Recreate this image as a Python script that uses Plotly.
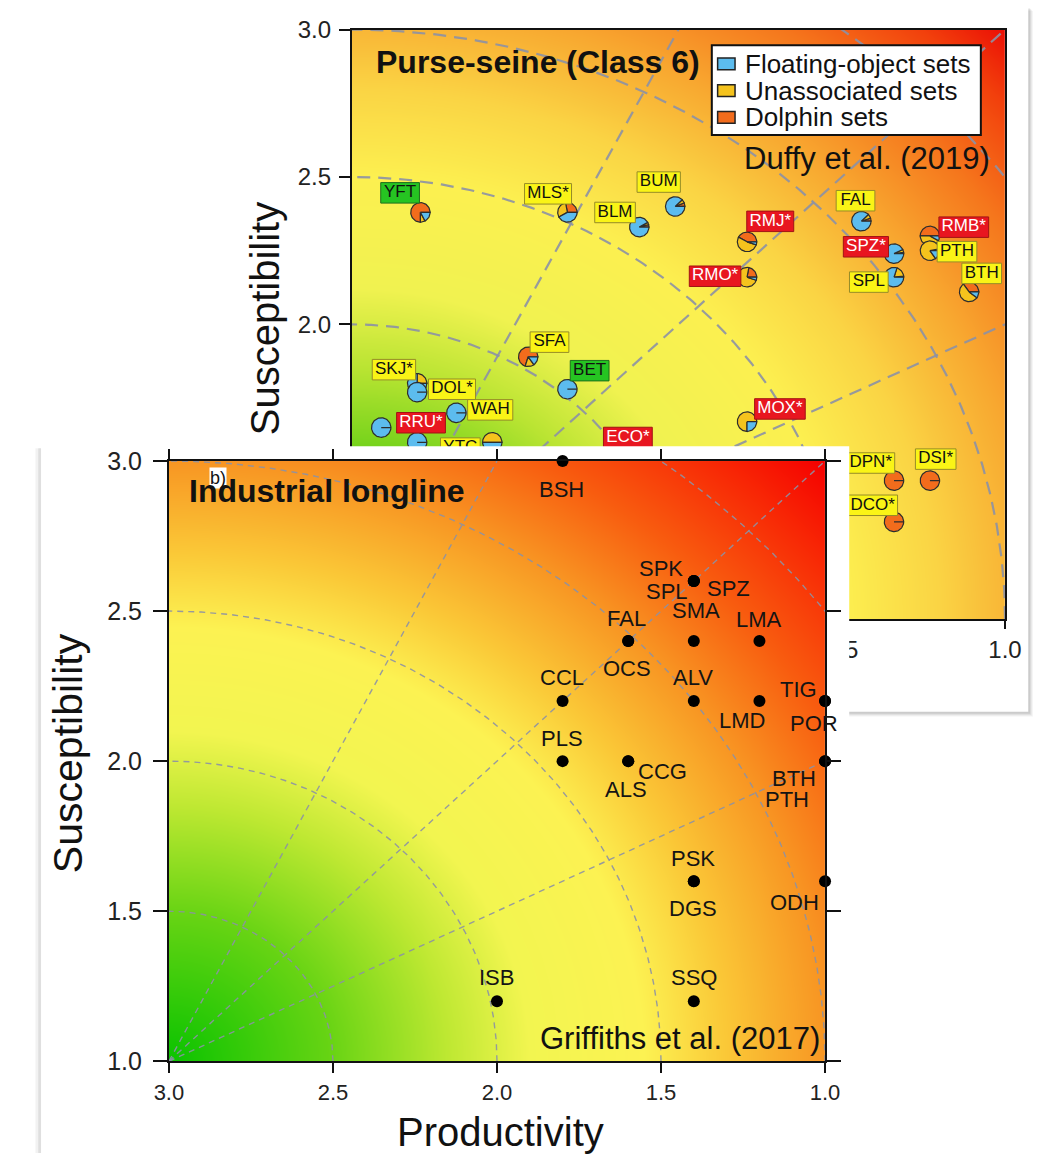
import numpy as np
import plotly.graph_objects as go

W, H = 1053, 1167
OFF = 0  # body margin is removed below, so figure pixels == page pixels

# ---------------- Purse-seine (Class 6) -- Duffy et al. (2019) ----------------
ps_species = ["YFT", "MLS*", "BLM", "BUM", "FAL", "RMJ*", "RMB*", "PTH", "SPZ*",
              "SPL", "BTH", "RMO*", "SFA", "BET", "SKJ*", "DOL*", "WAH", "",
              "RRU*", "YTC", "ECO*", "MOX*", "DPN*", "DSI*", "DCO*"]
ps_productivity = [2.79, 2.34, 2.12, 2.01, 1.44, 1.79, 1.23, 1.23, 1.34,
                   1.34, 1.11, 1.79, 2.46, 2.34, 2.80, 2.80, 2.68, 2.91,
                   2.80, 2.57, 2.22, 1.79, 1.34, 1.23, 1.34]
ps_susceptibility = [2.38, 2.38, 2.33, 2.40, 2.35, 2.28, 2.30, 2.25, 2.24,
                     2.16, 2.11, 2.16, 1.89, 1.78, 1.80, 1.77, 1.70, 1.65,
                     1.60, 1.60, 1.55, 1.67, 1.47, 1.47, 1.33]
ps_floating = [0.17, 0.42, 0.92, 0.88, 0.88, 0.05, 0.08, 0.15, 0.93,
               0.80, 0.10, 0.05, 0.15, 1.00, 0.75, 1.00, 1.00, 1.00,
               1.00, 0.50, 1.00, 0.25, 0.00, 0.00, 0.00]
ps_unassociated = [0.08, 0.30, 0.04, 0.06, 0.07, 0.53, 0.42, 0.82, 0.05,
                   0.18, 0.55, 0.73, 0.15, 0.00, 0.25, 0.00, 0.00, 0.00,
                   0.00, 0.50, 0.00, 0.75, 0.00, 0.00, 0.00]
ps_dolphin = [0.75, 0.28, 0.04, 0.06, 0.05, 0.42, 0.50, 0.03, 0.02,
              0.02, 0.35, 0.22, 0.70, 0.00, 0.00, 0.00, 0.00, 0.00,
              0.00, 0.00, 0.00, 0.00, 1.00, 1.00, 1.00]
ps_risk = ["low", "medium", "medium", "medium", "medium", "high", "high", "medium", "high",
           "medium", "medium", "high", "medium", "low", "medium", "medium", "medium", "",
           "high", "medium", "high", "high", "medium", "medium", "medium"]
set_types = ["Floating-object sets", "Unassociated sets", "Dolphin sets"]

# ---------------- Industrial longline -- Griffiths et al. (2017) ----------------
ll_species = ["BSH", "SPK", "SPL", "SPZ", "FAL", "OCS", "SMA", "LMA", "CCL", "ALV",
              "LMD", "TIG", "POR", "PLS", "CCG", "ALS", "BTH", "PTH", "PSK", "DGS",
              "ODH", "ISB", "SSQ"]
ll_productivity = [1.8, 1.4, 1.4, 1.4, 1.6, 1.6, 1.4, 1.2, 1.8, 1.4,
                   1.2, 1.0, 1.0, 1.8, 1.6, 1.6, 1.0, 1.0, 1.4, 1.4,
                   1.0, 2.0, 1.4]
ll_susceptibility = [3.0, 2.6, 2.6, 2.6, 2.4, 2.4, 2.4, 2.4, 2.2, 2.2,
                     2.2, 2.2, 2.2, 2.0, 2.0, 2.0, 2.0, 2.0, 1.6, 1.6,
                     1.6, 1.2, 1.2]

# reference arcs (radius from origin P=3,S=1) and rays (slope dS/dP)
ref_radii = [0.5, 1.0, 1.5, 2.0, 2.5]
ref_slopes = [0.5, 1.0, 2.0]
axis_ticks = [1.0, 1.5, 2.0, 2.5, 3.0]

# ---------------- layout / style (target pixels) ----------------
TOP = dict(x0=346, x1=1021, y0=16, y1=620)
BOT = dict(x0=157, x1=835, y0=458, y1=1073)
FONT = "Liberation Sans, Arial, Helvetica, sans-serif"
COL_SET = ["#5cbcee", "#f5c31d", "#f26c1c"]          # floating, unassociated, dolphin
RISK_FILL = {"high": "rgb(232,22,32)", "medium": "rgb(250,244,22)", "low": "rgb(38,196,34)"}
RISK_LINE = {"high": "rgb(160,20,20)", "medium": "rgb(150,140,40)", "low": "rgb(30,110,30)"}
RISK_TEXT = {"high": "white", "medium": "#111111", "low": "#111111"}
ps_label_offset = {"YFT": (-21, -20), "MLS*": (-20, -19), "BLM": (-25, -15), "BUM": (-17, -25),
                   "FAL": (-6, -21), "RMJ*": (24, -21), "RMB*": (35, -9), "PTH": (28, 1),
                   "SPZ*": (-29, -7), "SPL": (-26, 5), "BTH": (13, -19), "RMO*": (-33, -1),
                   "SFA": (22, -15), "BET": (23, -19), "SKJ*": (-24, -14), "DOL*": (36, -3),
                   "WAH": (35, -3), "RRU*": (4, -20), "YTC": (-33, 6), "ECO*": (22, -20),
                   "MOX*": (34, -13), "DPN*": (-24, -18), "DSI*": (6, -22), "DCO*": (-22, -17)}
ll_label_offset = {"BSH": (-1, 28), "SPK": (-33, -13), "SPL": (-27, 10), "SPZ": (35, 7),
                   "FAL": (-2, -23), "OCS": (-1, 27), "SMA": (2, -31), "LMA": (0, -22),
                   "CCL": (-1, -24), "ALV": (-1, -24), "LMD": (-17, 19), "TIG": (-27, -12),
                   "POR": (-11, 22), "PLS": (-1, -23), "CCG": (34, 10), "ALS": (-2, 28),
                   "BTH": (-31, 17), "PTH": (-38, 38), "PSK": (-1, -23), "DGS": (-1, 27),
                   "ODH": (-31, 21), "ISB": (0, -24), "SSQ": (0, -24)}
ARIAL_W = dict(A=.667, B=.667, C=.722, D=.722, E=.667, F=.611, G=.778, H=.722, I=.278, J=.5,
               K=.667, L=.556, M=.833, N=.722, O=.778, P=.667, Q=.778, R=.722, S=.667, T=.611,
               U=.722, V=.667, W=.944, X=.667, Y=.667, Z=.611)
ARIAL_W["*"] = .389

ZMAX = 2 * np.sqrt(2)
top_stops = [(0, (25, 190, 0)), (0.5, (95, 205, 20)), (0.85, (185, 228, 50)), (1.12, (240, 242, 80)),
             (1.5, (252, 240, 80)), (1.8, (250, 212, 68)), (2.1, (248, 168, 48)), (2.4, (245, 118, 28)),
             (2.65, (242, 65, 12)), (ZMAX, (235, 15, 5))]
bot_stops = [(0, (10, 195, 0)), (0.5, (105, 212, 20)), (0.85, (190, 232, 50)), (1.1, (242, 245, 80)),
             (1.45, (252, 242, 82)), (1.7, (250, 200, 55)), (2.0, (248, 150, 35)), (2.3, (248, 92, 15)),
             (2.6, (248, 40, 5)), (ZMAX, (245, 0, 0))]


def cscale(stops):
    return [[r / ZMAX, "rgb(%d,%d,%d)" % c] for r, c in stops]


def pxx(v):
    return (v - OFF) / W


def pxy(v):
    return 1 - (v - OFF) / H


kx_top = (TOP["x1"] - TOP["x0"]) / 2.0
ky_top = (TOP["y1"] - TOP["y0"]) / 2.0

fig = go.Figure()


def add_background(xa, ya, stops, dash, width):
    g = np.linspace(1, 3, 121)
    PP, SS = np.meshgrid(g, g)
    Z = np.hypot(3 - PP, SS - 1)
    fig.add_trace(go.Heatmap(x=g, y=g, z=Z, zmin=0, zmax=ZMAX, colorscale=cscale(stops),
                             zsmooth="best", showscale=False, hoverinfo="skip",
                             xaxis=xa, yaxis=ya))
    th = np.linspace(0, np.pi / 2, 240)
    lx, ly = [], []
    for r in ref_radii:
        lx += list(3 - r * np.cos(th)) + [None]
        ly += list(1 + r * np.sin(th)) + [None]
    for m in ref_slopes:
        t = min(2.0, 2.0 / m)
        lx += [3, 3 - t, None]
        ly += [1, 1 + m * t, None]
    fig.add_trace(go.Scatter(x=lx, y=ly, mode="lines", hoverinfo="skip", showlegend=False,
                             line=dict(color="rgba(140,145,165,0.9)", width=width, dash=dash),
                             xaxis=xa, yaxis=ya))


# ---------------- top panel ----------------
add_background("x", "y", top_stops, "13px,8px", 2.2)

R_PIE = 10.0
for i, sp in enumerate(ps_species):
    p0, s0 = ps_productivity[i], ps_susceptibility[i]
    fr = [ps_dolphin[i], ps_unassociated[i], ps_floating[i]]
    cols = [COL_SET[2], COL_SET[1], COL_SET[0]]
    tot = sum(fr)
    a0 = 0.0
    for f, c in zip(fr, cols):
        if f <= 0:
            continue
        a1 = a0 + 2 * np.pi * f / tot
        th = np.linspace(a0, a1, max(3, int(80 * f) + 2))
        xs = [p0] + list(p0 - R_PIE * np.cos(th) / kx_top) + [p0]
        ys = [s0] + list(s0 + R_PIE * np.sin(th) / ky_top) + [s0]
        fig.add_trace(go.Scatter(x=xs, y=ys, mode="lines", fill="toself", fillcolor=c,
                                 line=dict(color="rgb(45,45,45)", width=1.2),
                                 hoverinfo="skip", showlegend=False, xaxis="x", yaxis="y"))
        a0 = a1

# label boxes + texts
for risk in ["high", "medium", "low"]:
    bx, by, tx, ty, tt = [], [], [], [], []
    for i, sp in enumerate(ps_species):
        if ps_risk[i] != risk or sp == "":
            continue
        dx, dy = ps_label_offset[sp]
        cx = ps_productivity[i] - dx / kx_top
        cy = ps_susceptibility[i] - dy / ky_top
        wpx = max(40.0, sum(ARIAL_W.get(ch, .6) for ch in sp) * 17 + 7)
        hw, hh = wpx / 2 / kx_top, 10.5 / ky_top
        bx += [cx - hw, cx + hw, cx + hw, cx - hw, cx - hw, None]
        by += [cy - hh, cy - hh, cy + hh, cy + hh, cy - hh, None]
        tx.append(cx)
        ty.append(cy)
        tt.append(sp)
    fig.add_trace(go.Scatter(x=bx, y=by, mode="lines", fill="toself", fillcolor=RISK_FILL[risk],
                             line=dict(color=RISK_LINE[risk], width=1), hoverinfo="skip",
                             showlegend=False, xaxis="x", yaxis="y"))
    fig.add_trace(go.Scatter(x=tx, y=ty, mode="text", text=tt, textposition="middle center",
                             textfont=dict(family=FONT, size=17, color=RISK_TEXT[risk]),
                             hoverinfo="skip", showlegend=False, xaxis="x", yaxis="y"))

# ---------------- card covering the top panel (pixel coordinates) ----------------
CARD = dict(x0=25, x1=860, y0=443, y1=1180)
fig.add_trace(go.Scatter(x=[19, 25, 25, 19, 19], y=[445, 445, 1180, 1180, 445], mode="lines",
                         fill="toself", fillcolor="rgba(0,0,0,0.05)", line=dict(width=0),
                         hoverinfo="skip", showlegend=False, xaxis="x2", yaxis="y2"))
fig.add_trace(go.Scatter(x=[22, 25, 25, 22, 22], y=[445, 445, 1180, 1180, 445], mode="lines",
                         fill="toself", fillcolor="rgba(0,0,0,0.08)", line=dict(width=0),
                         hoverinfo="skip", showlegend=False, xaxis="x2", yaxis="y2"))
fig.add_trace(go.Scatter(x=[CARD["x0"], CARD["x1"], CARD["x1"], CARD["x0"], CARD["x0"]],
                         y=[CARD["y0"], CARD["y0"], CARD["y1"], CARD["y1"], CARD["y0"]], mode="lines",
                         fill="toself", fillcolor="white", line=dict(width=0),
                         hoverinfo="skip", showlegend=False, xaxis="x2", yaxis="y2"))

# ---------------- bottom panel ----------------
add_background("x3", "y3", bot_stops, "6px,5px", 1.4)
fig.add_trace(go.Scatter(x=ll_productivity, y=ll_susceptibility, mode="markers",
                         marker=dict(color="black", size=12), cliponaxis=False,
                         hoverinfo="skip", showlegend=False, xaxis="x3", yaxis="y3"))

annotations = []
for i, sp in enumerate(ll_species):
    dx, dy = ll_label_offset[sp]
    annotations.append(dict(x=ll_productivity[i], y=ll_susceptibility[i], xref="x3", yref="y3",
                            text=sp, showarrow=False, xshift=dx, yshift=-dy,
                            xanchor="center", yanchor="middle",
                            font=dict(family=FONT, size=22, color="#141414")))


def txt(x, y, text, size, xanchor="center", bold=False, angle=0, bg=None):
    d = dict(x=pxx(x), y=pxy(y), xref="paper", yref="paper", text=("<b>%s</b>" % text) if bold else text,
             showarrow=False, xanchor=xanchor, yanchor="middle", textangle=angle,
             font=dict(family=FONT, size=size, color="#111111"))
    if bg:
        d["bgcolor"] = bg
        d["borderpad"] = 0
    annotations.append(d)


txt(369, 49, "Purse-seine (Class 6)", 32, xanchor="left", bold=True)
txt(1008, 148, "Duffy et al. (2019)", 31, xanchor="right")
txt(256, 312, "Susceptibility", 40, angle=-90)
txt(208, 475, "b)", 18, bg="white")
txt(176, 489, "Industrial longline", 32, xanchor="left", bold=True)
txt(832, 1050, "Griffiths et al. (2017)", 31, xanchor="right")
txt(53, 757, "Susceptibility", 41, angle=-90)
txt(500, 1145, "Productivity", 40)

shapes = []
for k, a in enumerate([0.035, 0.045, 0.06, 0.08]):
    off = 5 - k
    shapes.append(dict(type="rect", xref="paper", yref="paper", layer="below",
                       x0=pxx(228 + off), x1=pxx(1045 + off), y0=pxy(715 + off), y1=pxy(off - 8),
                       fillcolor="rgba(0,0,0,%g)" % a, line=dict(width=0)))
shapes.append(dict(type="rect", xref="paper", yref="paper", layer="below",
                   x0=pxx(228), x1=pxx(1045), y0=pxy(715), y1=pxy(-8),
                   fillcolor="white", line=dict(width=0)))
# legend (manual)
shapes.append(dict(type="rect", xref="paper", yref="paper", layer="above",
                   x0=pxx(718), x1=pxx(996), y0=pxy(124), y1=pxy(32),
                   fillcolor="white", line=dict(color="#111111", width=2)))
for k, name in enumerate(set_types):
    yc = 51 + 27.5 * k
    shapes.append(dict(type="rect", xref="paper", yref="paper", layer="above",
                       x0=pxx(724), x1=pxx(742), y0=pxy(yc + 6), y1=pxy(yc - 6),
                       fillcolor=COL_SET[k], line=dict(color="#222222", width=1.5)))
    txt(750, yc, name, 26, xanchor="left")

axis_common = dict(showgrid=False, zeroline=False, showline=True, linecolor="#111111", linewidth=2,
                   ticks="outside", tickcolor="#111111", tickwidth=2, tickmode="array",
                   tickvals=axis_ticks, ticktext=["%.1f" % v for v in axis_ticks])

fig.update_layout(
    width=W, height=H, margin=dict(l=0, r=0, t=0, b=0),
    paper_bgcolor="white", plot_bgcolor="rgba(0,0,0,0)", showlegend=False,
    xaxis=dict(domain=[pxx(TOP["x0"]), pxx(TOP["x1"])], range=[3, 1], anchor="y", mirror=True,
               ticklen=8, tickfont=dict(family=FONT, size=24, color="#222222"), **axis_common),
    yaxis=dict(domain=[pxy(TOP["y1"]), pxy(TOP["y0"])], range=[1, 3], anchor="x", mirror=True,
               ticklen=11, ticklabelstandoff=3,
               tickfont=dict(family=FONT, size=24, color="#222222"), **axis_common),
    xaxis2=dict(domain=[pxx(18), pxx(866)], range=[18, 866], anchor="y2", visible=False),
    yaxis2=dict(domain=[0, pxy(441)], range=[H + OFF, 441], anchor="x2", visible=False),
    xaxis3=dict(domain=[pxx(BOT["x0"]), pxx(BOT["x1"])], range=[3, 1], anchor="y3", mirror="allticks",
                ticklen=10, tickfont=dict(family=FONT, size=22, color="#222222"), **axis_common),
    yaxis3=dict(domain=[pxy(BOT["y1"]), pxy(BOT["y0"])], range=[1, 3], anchor="x3", mirror="allticks",
                ticklen=14, ticklabelstandoff=6,
                tickfont=dict(family=FONT, size=25, color="#222222"), **axis_common),
    annotations=annotations, shapes=shapes,
)

fig.write_html("out.html", config={"displayModeBar": False},
               post_script="document.body.style.margin='0';document.body.style.overflow='hidden';")
